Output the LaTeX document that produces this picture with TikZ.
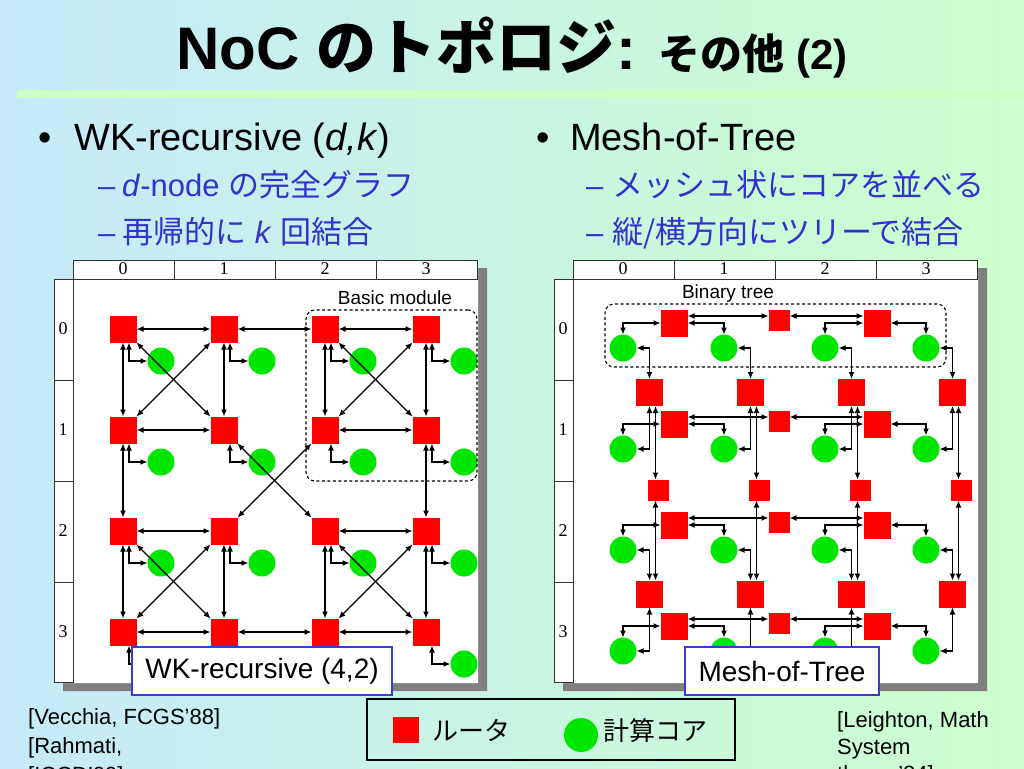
\documentclass[tikz,border=0pt]{standalone}
\usepackage{fontspec}
\usepackage{xcolor}
\usepackage{tikz}
\usetikzlibrary{arrows.meta}
\setmainfont{Liberation Sans}
\newfontfamily\jp{Noto Sans CJK JP}
\newfontfamily\numfont{Liberation Serif}
\definecolor{bgleft}{RGB}{198,234,250}
\definecolor{bgright}{RGB}{204,255,204}
\definecolor{rulegreen}{RGB}{204,255,196}
\definecolor{subblue}{RGB}{51,51,204}
\definecolor{coregreen}{RGB}{0,230,0}
\definecolor{boxblue}{RGB}{60,60,200}
\definecolor{shadowgray}{RGB}{128,128,128}

\begin{document}
\begin{tikzpicture}[x=1pt,y=-1pt,
    router/.style={fill=red, minimum size=27pt, inner sep=0pt, outer sep=0pt},
    smallrouter/.style={router, minimum size=21pt},
    core/.style={circle, fill=coregreen, minimum size=27pt, inner sep=0pt, outer sep=0pt},
    link/.style={{Latex[length=7pt,width=6pt]}-{Latex[length=7pt,width=6pt]}, line width=1.3pt},
    gridline/.style={draw=black!80, line width=0.8pt},
    modbox/.style={draw, dash pattern=on 3pt off 2.5pt, line width=1.1pt, rounded corners=9pt, inner sep=0pt},
    labelbox/.style={draw=boxblue, line width=2pt, fill=white, inner sep=0pt, font=\fontsize{28}{28}\selectfont},
    txt/.style={anchor=base west, inner sep=0pt},
    hdr/.style={inner sep=0pt, font=\numfont\fontsize{18}{18}\selectfont}]
    \useasboundingbox (0,0) rectangle (1024,768);
    \shade[left color=bgleft, right color=bgright] (0,0) rectangle (1024,768);
    \draw[rulegreen, line width=8pt] (17,94) -- (1024,94);

    \node (title) [anchor=base, inner sep=0pt] at (512,70) {\fontsize{60}{60}\selectfont\bfseries NoC {\jp のトポロジ}: \fontsize{42}{42}\selectfont{\jp その他} (2)};

    \node (wkbul) [txt, font=\fontsize{38}{38}\selectfont] at (38,150) {•};
    \node (wktxt) [txt, font=\fontsize{38}{38}\selectfont] at (74,150) {WK-recursive (\textit{d,k})};
    \node (wkdash1) [txt, subblue, font=\fontsize{31}{31}\selectfont] at (98,196) {–};
    \node (wksub1) [txt, subblue, font=\fontsize{31}{31}\selectfont] at (122,196) {\textit{d}-node {\jp の完全グラフ}};
    \node (wkdash2) [txt, subblue, font=\fontsize{31}{31}\selectfont] at (98,243) {–};
    \node (wksub2) [txt, subblue, font=\fontsize{31}{31}\selectfont] at (122,243) {{\jp 再帰的に} \textit{k} {\jp 回結合}};

    \node (motbul) [txt, font=\fontsize{38}{38}\selectfont] at (536,150) {•};
    \node (mottxt) [txt, font=\fontsize{38}{38}\selectfont] at (570,150) {Mesh-of-Tree};
    \node (motdash1) [txt, subblue, font=\fontsize{31}{31}\selectfont] at (586,196) {–};
    \node (motsub1) [txt, subblue, font=\fontsize{31}{31}\selectfont] at (612,196) {\jp メッシュ状にコアを並べる};
    \node (motdash2) [txt, subblue, font=\fontsize{31}{31}\selectfont] at (586,243) {–};
    \node (motsub2) [txt, subblue, font=\fontsize{31}{31}\selectfont] at (612,243) {\jp 縦/横方向にツリーで結合};

    \foreach \dx in {0,500} {
        \fill[shadowgray, shift={(\dx+9,8)}] (73,260) -- (478,260) -- (478,683) -- (54,683) -- (54,279) -- (73,279) -- cycle;
        \fill[white, shift={(\dx,0)}] (73,260) -- (478,260) -- (478,683) -- (54,683) -- (54,279) -- (73,279) -- cycle;
        \draw[gridline, shift={(\dx,0)}] (73,260) rectangle (477,279) (54,279) rectangle (73,682);
        \foreach \k in {1,2,3} {
            \draw[gridline, shift={(\dx,0)}] ({73+101*\k},260) -- ({73+101*\k},279);
            \draw[gridline, shift={(\dx,0)}] (54,{279+101*\k}) -- (73,{279+101*\k});
        }
    }
    \foreach \i in {0,...,3} {
        \node (wkcol\i) [hdr] at ({123+101*\i},269) {\i};
        \node (wkrow\i) [hdr] at (63,{329+101*\i}) {\i};
        \node (motcol\i) [hdr] at ({623+101*\i},269) {\i};
        \node (motrow\i) [hdr] at (563,{329+101*\i}) {\i};
    }

    \foreach \r in {0,...,3}
        \foreach \c in {0,...,3} {
            \node (wr\r\c) [router] at ({123+101*\c},{329+101*\r}) {};
            \node (wc\r\c) [core] at ({161+101*\c},{361+101*\r}) {};
            \draw[link] ([xshift=6pt]wr\r\c.south) |- (wc\r\c.west);
        }
    \foreach \a/\b in {00/01,01/02,02/03,10/11,12/13,20/21,22/23,30/31,31/32,32/33}
        \draw[link] (wr\a.east) -- (wr\b.west);
    \foreach \a/\b in {00/10,10/20,20/30,01/11,21/31,02/12,22/32,03/13,13/23,23/33}
        \draw[link] (wr\a.south) -- (wr\b.north);
    \foreach \a/\b in {00/11,02/13,20/31,22/33,11/22}
        \draw[link] (wr\a.south east) -- (wr\b.north west);
    \foreach \a/\b in {01/10,03/12,21/30,23/32,12/21}
        \draw[link] (wr\a.south west) -- (wr\b.north east);
    \node (basicmod) [modbox, minimum width=171pt, minimum height=171pt] at (391.5,395.5) {};
    \node (basiclbl) [txt, anchor=base, font=\fontsize{19}{19}\selectfont] at (395,304) {Basic module};

    \foreach \r in {0,...,3} {
        \foreach \c in {0,...,3}
            \node (mc\r\c) [core] at ({623+101*\c},{348+101*\r}) {};
        \node (ml\r) [router] at (674,{323+101*\r}) {};
        \node (mr\r) [router] at (877,{323+101*\r}) {};
        \node (mt\r) [smallrouter] at (779,{320.5+101*\r}) {};
        \draw[link] (ml\r.west) -| (mc\r0.north);
        \draw[link] (ml\r.east) -| (mc\r1.north);
        \draw[link] (mr\r.west) -| (mc\r2.north);
        \draw[link] (mr\r.east) -| (mc\r3.north);
        \draw[link] ([yshift=7pt]ml\r.east) -- ([yshift=7pt]ml\r.east -| mt\r.west);
        \draw[link] ([yshift=7pt]mr\r.west) -- ([yshift=7pt]mr\r.west -| mt\r.east);
    }
    \foreach \c in {0,...,3} {
        \node (mu\c) [router] at ({649.5+101*\c},392.5) {};
        \node (md\c) [router] at ({649.5+101*\c},594) {};
        \node (mq\c) [smallrouter] at ({658.5+101*\c},490) {};
        \draw[link] (mc0\c.east) -| (mu\c.north);
        \draw[link] (mc1\c.east) -| (mu\c.south);
        \draw[link] (mc2\c.east) -| (md\c.north);
        \draw[link] (mc3\c.east) -| (md\c.south);
        \draw[link] ([xshift=6pt]mu\c.south) -- ([xshift=6pt]mu\c.south |- mq\c.north);
        \draw[link] ([xshift=6pt]md\c.north) -- ([xshift=6pt]md\c.north |- mq\c.south);
    }
    \node (bintree) [modbox, minimum width=341pt, minimum height=63pt] at (775.5,335.5) {};
    \node (binlbl) [txt, anchor=base, font=\fontsize{19}{19}\selectfont] at (728,298) {Binary tree};

    \node (wklabel) [labelbox, minimum width=260pt, minimum height=48pt] at (262,671) {WK-recursive (4,2)};
    \node (motlabel) [labelbox, minimum width=194pt, minimum height=48pt] at (782,671) {Mesh-of-Tree};

    \node (legend) [draw, line width=2.5pt, minimum width=368pt, minimum height=61pt, inner sep=0pt] at (551,729.5) {};
    \node (legrouter) [router, minimum size=26pt] at (406,729.5) {};
    \node (legroutertxt) [txt, anchor=west, font=\jp\fontsize{26}{26}\selectfont] at (432,730) {ルータ};
    \node (legcore) [core, minimum size=34pt] at (581,735) {};
    \node (legcoretxt) [txt, anchor=west, font=\jp\fontsize{26}{26}\selectfont] at (603,731) {計算コア};

    \node (refleft1) [txt, font=\fontsize{22}{22}\selectfont] at (28,724) {[Vecchia, FCGS’88]};
    \node (refleft2) [txt, font=\fontsize{22}{22}\selectfont] at (28,753) {[Rahmati,};
    \node (refleft3) [txt, font=\fontsize{22}{22}\selectfont] at (28,782) {[ICCD’09]};
    \node (refright1) [txt, font=\fontsize{22}{22}\selectfont] at (837,727) {[Leighton, Math};
    \node (refright2) [txt, font=\fontsize{22}{22}\selectfont] at (837,754) {System};
    \node (refright3) [txt, font=\fontsize{22}{22}\selectfont] at (837,781) {theory’84]};
\end{tikzpicture}
\end{document}
